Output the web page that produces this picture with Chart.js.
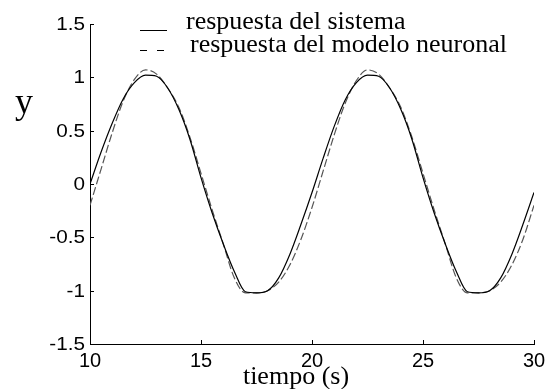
<!DOCTYPE html>
<html lang="es">
<head>
    <meta charset="UTF-8">
    <title>Respuesta del sistema</title>
    <script src="https://cdn.jsdelivr.net/npm/chart.js"></script>
    <style>
        html, body { margin: 0; padding: 0; background: #fff; }
        #wrap { width: 549px; height: 389px; }
    </style>
</head>
<body>
    <div id="wrap"><canvas id="respuestaChart" width="549" height="389"></canvas></div>

    <script>
        // tiempo (s), muestreado cada 0.5 s
        const tiempo = [
            10, 10.5, 11, 11.5, 12, 12.5, 13, 13.5, 14, 14.5,
            15, 15.5, 16, 16.5, 17, 17.5, 18, 18.5, 19, 19.5,
            20, 20.5, 21, 21.5, 22, 22.5, 23, 23.5, 24, 24.5,
            25, 25.5, 26, 26.5, 27, 27.5, 28, 28.5, 29, 29.5, 30
        ];
        // salida del sistema real
        const ySistema = [
            0.00, 0.30, 0.57, 0.80, 0.95, 1.02, 1.01, 0.90, 0.70, 0.42,
            0.06, -0.27, -0.56, -0.82, -1.01, -1.02, -1.00, -0.88, -0.66, -0.38,
            -0.08, 0.24, 0.54, 0.79, 0.95, 1.02, 1.01, 0.90, 0.70, 0.42,
            0.06, -0.27, -0.56, -0.82, -1.01, -1.02, -1.00, -0.88, -0.66, -0.38, -0.08
        ];
        // salida de la red neuronal
        const yModelo = [
            -0.20, 0.14, 0.48, 0.78, 0.98, 1.07, 1.03, 0.90, 0.72, 0.44,
            0.10, -0.24, -0.56, -0.88, -1.02, -1.02, -1.00, -0.92, -0.76, -0.52,
            -0.22, 0.12, 0.46, 0.76, 0.97, 1.07, 1.03, 0.90, 0.72, 0.44,
            0.10, -0.24, -0.56, -0.88, -1.02, -1.02, -1.00, -0.92, -0.76, -0.52, -0.20
        ];
        const xTicks = [10, 15, 20, 25, 30];
        const yTicks = [-1.5, -1, -0.5, 0, 0.5, 1, 1.5];

        const serif = '"Liberation Serif", "Times New Roman", serif';
        const sans = '"Liberation Sans", Arial, sans-serif';

        // texto con estiramiento horizontal opcional
        function texto(ctx, str, x, y, sx) {
            ctx.save();
            ctx.translate(x, y);
            ctx.scale(sx || 1, 1);
            ctx.fillText(str, 0, 0);
            ctx.restore();
        }

        // texto, marcas hacia dentro y leyenda al estilo MATLAB
        const matlabAxes = {
            id: 'matlabAxes',
            afterDraw(chart) {
                const ctx = chart.ctx;
                const xs = chart.scales.x, ys = chart.scales.y;
                const area = chart.chartArea;
                ctx.save();
                ctx.strokeStyle = '#000';
                ctx.fillStyle = '#000';
                ctx.lineWidth = 1;

                // marcas
                ctx.beginPath();
                xTicks.forEach(v => {
                    const px = Math.round(xs.getPixelForValue(v)) + 0.5;
                    ctx.moveTo(px, area.bottom);
                    ctx.lineTo(px, area.bottom - 4);
                });
                yTicks.forEach(v => {
                    const py = Math.round(ys.getPixelForValue(v)) + 0.5;
                    ctx.moveTo(area.left, py);
                    ctx.lineTo(area.left + 4, py);
                });
                ctx.stroke();

                // etiquetas de los ejes
                ctx.font = '20px ' + sans;
                ctx.textAlign = 'center';
                ctx.textBaseline = 'top';
                xTicks.forEach(v => texto(ctx, String(v), xs.getPixelForValue(v), area.bottom + 7));
                ctx.font = '18px ' + sans;
                ctx.textAlign = 'right';
                ctx.textBaseline = 'middle';
                yTicks.forEach(v => texto(ctx, String(v), area.left - 5, ys.getPixelForValue(v) + 1, 1.15));

                ctx.font = '26px ' + serif;
                ctx.textAlign = 'center';
                ctx.textBaseline = 'alphabetic';
                texto(ctx, 'tiempo (s)', 296, 384);
                ctx.font = '36px ' + serif;
                texto(ctx, 'y', 24, 113);

                // leyenda
                const ds = chart.data.datasets;
                ctx.font = '26px ' + serif;
                ctx.textAlign = 'left';
                ctx.beginPath();
                ctx.moveTo(140, 30.5);
                ctx.lineTo(167, 30.5);
                ctx.stroke();
                texto(ctx, ds[0].label, 186, 29);
                ctx.setLineDash([7, 10]);
                ctx.beginPath();
                ctx.moveTo(140, 50.5);
                ctx.lineTo(164, 50.5);
                ctx.stroke();
                ctx.setLineDash([]);
                texto(ctx, ds[1].label, 190, 52);
                ctx.restore();
            }
        };

        new Chart(document.getElementById('respuestaChart'), {
            type: 'line',
            data: {
                datasets: [
                    {
                        label: 'respuesta del sistema',
                        data: tiempo.map((t, i) => ({ x: t, y: ySistema[i] })),
                        borderColor: '#000',
                        borderWidth: 1.2,
                        pointRadius: 0,
                        cubicInterpolationMode: 'monotone',
                        fill: false
                    },
                    {
                        label: 'respuesta del modelo neuronal',
                        data: tiempo.map((t, i) => ({ x: t, y: yModelo[i] })),
                        borderColor: '#555',
                        borderWidth: 1.2,
                        borderDash: [8, 3],
                        pointRadius: 0,
                        cubicInterpolationMode: 'monotone',
                        fill: false
                    }
                ]
            },
            options: {
                responsive: false,
                animation: false,
                layout: { padding: { top: 24, right: 15, left: 0, bottom: 0 } },
                plugins: { legend: { display: false }, tooltip: { enabled: false } },
                scales: {
                    x: {
                        type: 'linear', min: 10, max: 30,
                        ticks: { display: false, stepSize: 5 },
                        grid: { display: false },
                        border: { display: true, color: '#000', width: 1 },
                        afterFit: s => { s.height = 45; }
                    },
                    y: {
                        type: 'linear', min: -1.5, max: 1.5,
                        ticks: { display: false, stepSize: 0.5 },
                        grid: { display: false },
                        border: { display: true, color: '#000', width: 1 },
                        afterFit: s => { s.width = 90; }
                    }
                }
            },
            plugins: [matlabAxes]
        });
    </script>
</body>
</html>
